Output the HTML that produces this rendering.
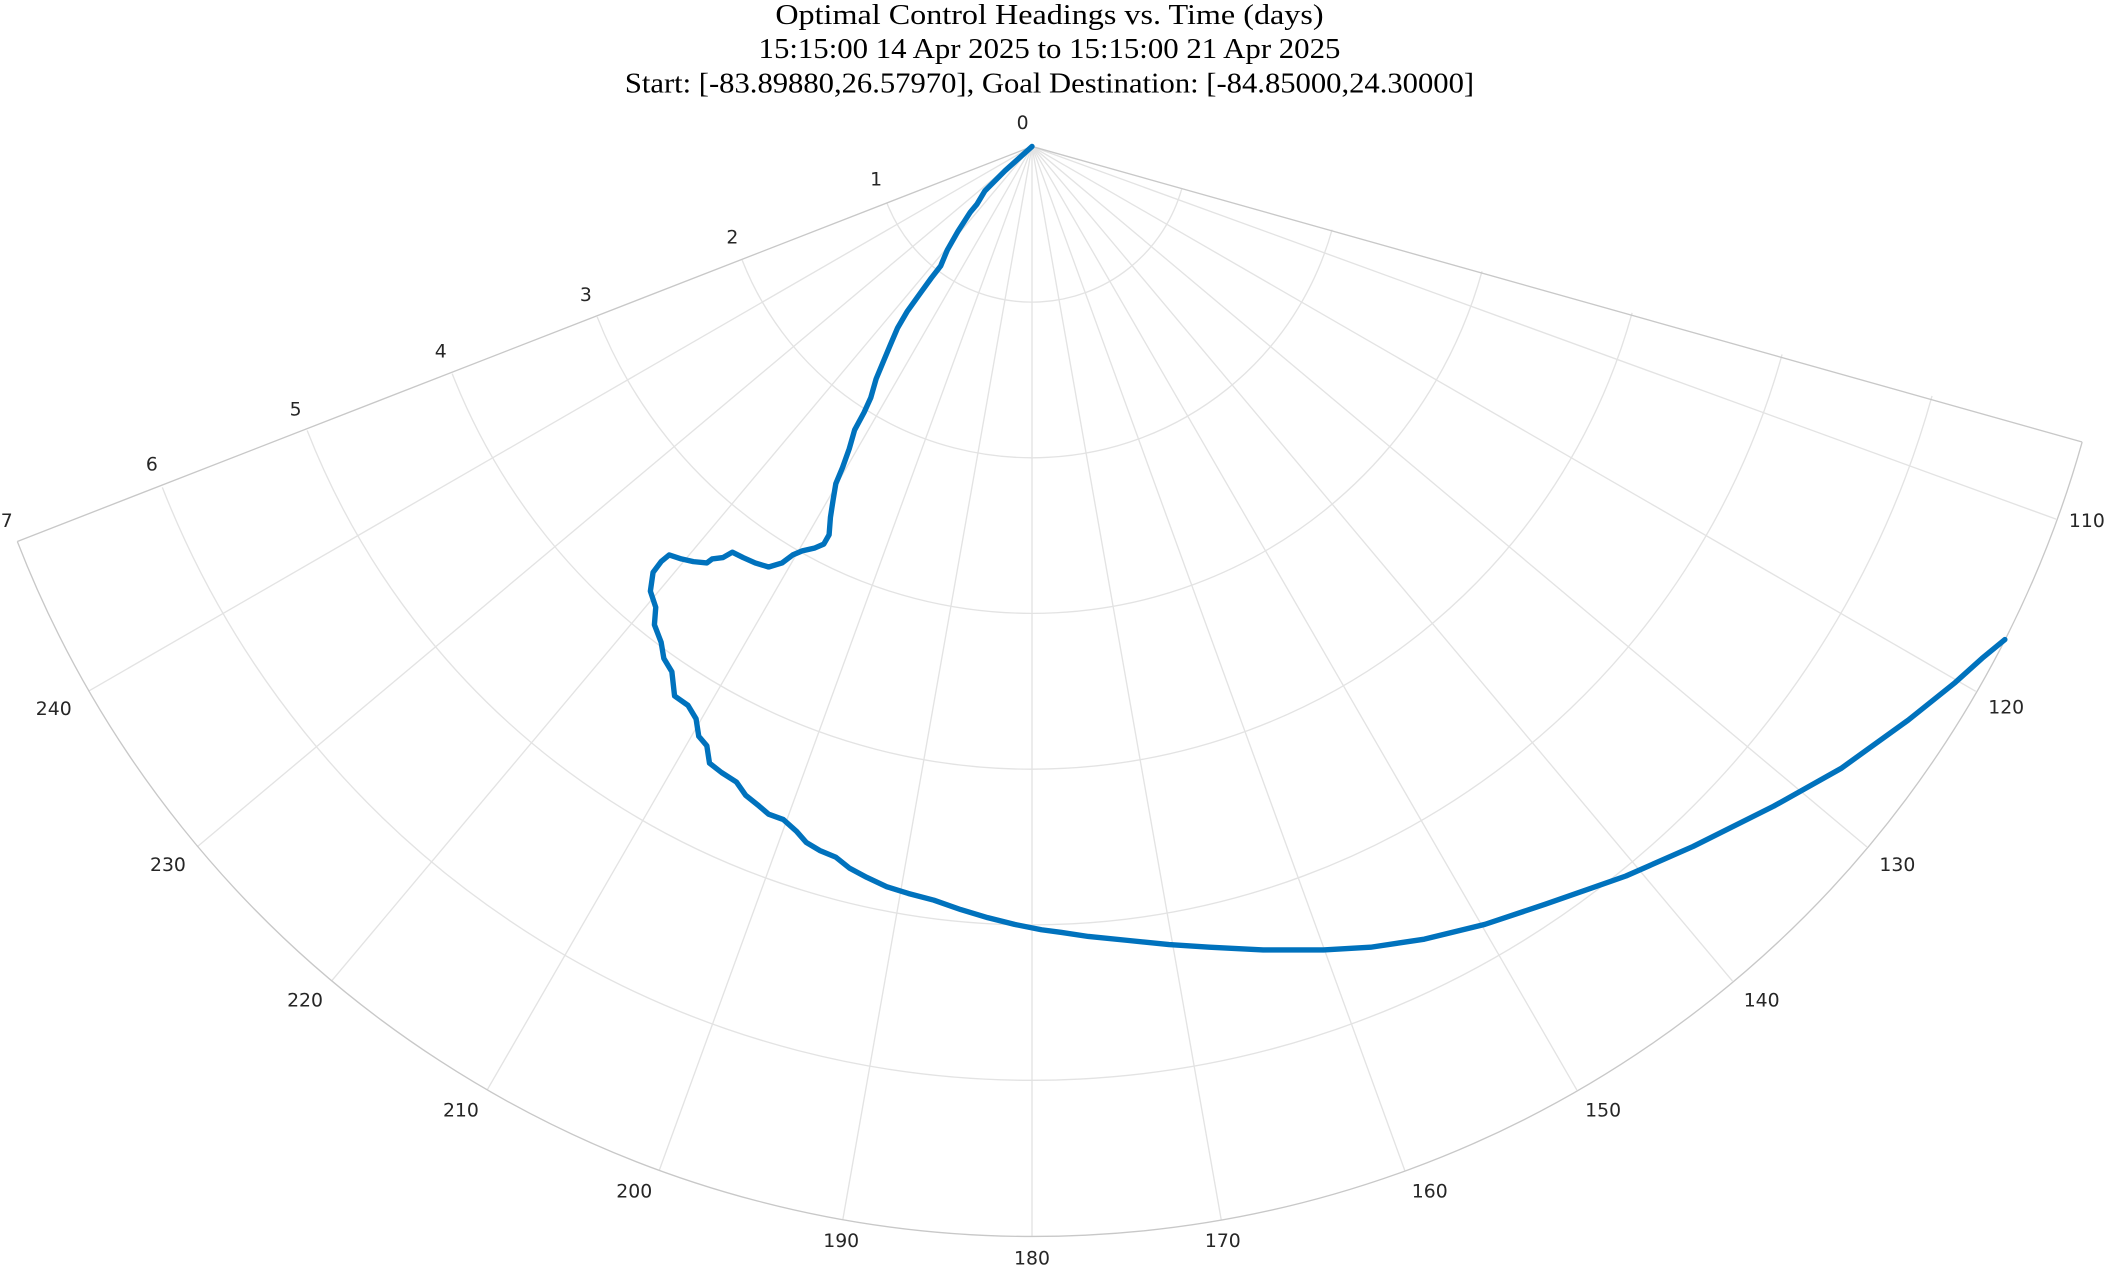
<!DOCTYPE html>
<html><head><meta charset="utf-8"><style>
html,body{margin:0;padding:0;background:#fff;}
svg{display:block;}
</style></head><body>
<svg width="2107" height="1267" viewBox="0 0 1568 943" preserveAspectRatio="none" xmlns="http://www.w3.org/2000/svg">
<rect width="1568" height="943" fill="#fff"/>
<g font-family="Liberation Serif, serif" font-size="21" fill="#000" text-anchor="middle">
<text x="781" y="18" textLength="408" lengthAdjust="spacingAndGlyphs">Optimal Control Headings vs. Time (days)</text>
<text x="781" y="43" textLength="433" lengthAdjust="spacingAndGlyphs">15:15:00 14 Apr 2025 to 15:15:00 21 Apr 2025</text>
<text x="781" y="69" textLength="632" lengthAdjust="spacingAndGlyphs">Start: [-83.89880,26.57970], Goal Destination: [-84.85000,24.30000]</text>
</g>
<g stroke="#e3e3e3" stroke-width="1" fill="none">
<path d="M879.6,140 A115.86,115.86 0 0 1 660.1,151.3"/>
<path d="M991.3,170.9 A231.71,231.71 0 0 1 552.3,193.6"/>
<path d="M1102.9,201.9 A347.57,347.57 0 0 1 444.4,235.8"/>
<path d="M1214.6,232.8 A463.43,463.43 0 0 1 336.5,278.1"/>
<path d="M1326.2,263.8 A579.29,579.29 0 0 1 228.6,320.4"/>
<path d="M1437.8,294.7 A695.14,695.14 0 0 1 120.8,362.7"/>
<line x1="768" y1="109" x2="1530.1" y2="386.4"/>
<line x1="768" y1="109" x2="1470.3" y2="514.5"/>
<line x1="768" y1="109" x2="1389.3" y2="630.3"/>
<line x1="768" y1="109" x2="1289.3" y2="730.2"/>
<line x1="768" y1="109" x2="1173.5" y2="811.3"/>
<line x1="768" y1="109" x2="1045.4" y2="871.1"/>
<line x1="768" y1="109" x2="908.8" y2="907.7"/>
<line x1="768" y1="109" x2="768" y2="920"/>
<line x1="768" y1="109" x2="627.2" y2="907.7"/>
<line x1="768" y1="109" x2="490.6" y2="871.1"/>
<line x1="768" y1="109" x2="362.5" y2="811.3"/>
<line x1="768" y1="109" x2="246.7" y2="730.2"/>
<line x1="768" y1="109" x2="146.7" y2="630.3"/>
<line x1="768" y1="109" x2="65.7" y2="514.5"/>
</g>
<g stroke="#c8c8c8" stroke-width="1" fill="none">
<path d="M1549.5,329 A811,811 0 0 1 12.9,403"/>
<line x1="768" y1="109" x2="1549.5" y2="329"/>
<line x1="768" y1="109" x2="12.9" y2="403"/>
</g>
<g font-family="DejaVu Sans, Liberation Sans, sans-serif" font-size="14" fill="#262626" text-anchor="middle" dominant-baseline="central">
<text x="761" y="92">0</text><text x="652" y="134">1</text><text x="545" y="177">2</text>
<text x="436" y="220">3</text><text x="328" y="262">4</text><text x="220" y="305">5</text>
<text x="113" y="346">6</text><text x="5" y="388">7</text>
<text x="1553" y="388">110</text><text x="1493" y="527">120</text><text x="1412" y="644">130</text>
<text x="1311" y="745">140</text><text x="1193" y="827">150</text><text x="1064" y="887">160</text>
<text x="910" y="924">170</text><text x="768" y="937">180</text><text x="626" y="924">190</text>
<text x="472" y="887">200</text><text x="343" y="827">210</text><text x="227" y="745">220</text>
<text x="125" y="644">230</text><text x="40" y="528">240</text>
</g>
<polyline fill="none" stroke="#0072BD" stroke-width="4" stroke-linejoin="round" stroke-linecap="round" points="768,109 748,127 733,142 727,152 722,158 713,172 705,186 700,198 693,207 685,218 675,232 668,244 662,258 657,270 652,282 648,296 643,307 636,320 632,334 627,348 622,360 620,372 618,385 617,398 613,405 606,408 597,410 590,413 582,419 572,422 562,419 553,415 545,411 538,415 530,416 526,419 516,418 507,416 498,413 492,418 486,426 484,440 488,452 487,465 492,478 494,490 500,500 502,518 512,525 518,535 520,548 526,555 528,568 537,575 548,582 555,592 565,600 572,606 583,610 593,619 600,627 610,633 622,638 632,646 645,653 660,660 676,665 695,670 715,677 735,683 755,688 775,692 790,694 810,697 840,700 870,703 900,705 940,707 985,707 1020,705 1060,699 1105,688 1150,673 1210,652 1260,630 1320,600 1370,572 1420,536 1455,508 1475,490 1492,476"/>
</svg>
</body></html>
